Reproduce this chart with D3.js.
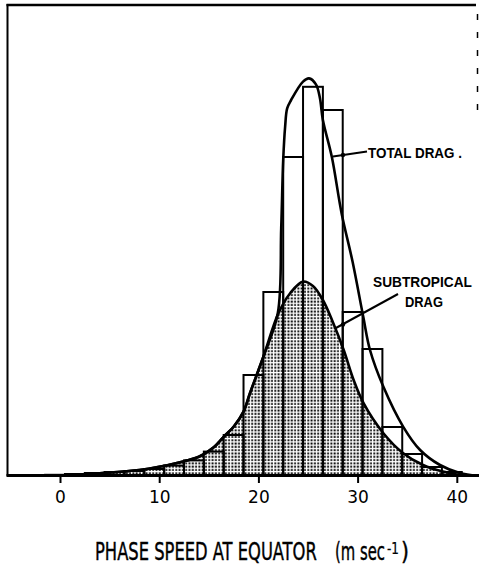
<!DOCTYPE html>
<html>
<head>
<meta charset="utf-8">
<script src="https://cdn.jsdelivr.net/npm/d3@7"></script>
<style>
  html, body { margin: 0; padding: 0; background: #fff; }
  svg { display: block; }
</style>
</head>
<body>
<svg id="chart" width="479" height="566"></svg>
<script>
// ---------- data ----------
// histogram bins (left edge, m/s), each 2 m/s wide
const binLefts = [-5.5, -3.5, -1.5, 0.5, 2.5, 4.5, 6.5, 8.5, 10.5, 12.5, 14.5, 16.5,
                  18.5, 20.5, 22.5, 24.5, 26.5, 28.5, 30.5, 32.5, 34.5, 36.5, 38.5];
const binWidth = 2;
// total drag histogram heights (arbitrary units)
const totalCounts = [0.1, 0.2, 0.3, 0.5, 0.75, 1.0, 1.25, 1.75, 2.6, 3.9, 6.1, 10.25,
                     25.25, 46, 79.75, 97.3, 91.5, 41, 31.75, 12.25, 5.5, 2.25, 1.0];
// subtropical drag curve
const subX = [-5, 0, 4, 8, 10, 12, 14, 15.5, 16.5, 17.5, 18.5, 19.15, 20.5, 22.0,
              23.2, 24.5, 25.5, 26.5, 27.5, 28.6, 29.6, 30.6, 32.6, 34.6, 36.6, 38.6, 40.8, 43];
const subY = [0, 0.1, 0.7, 1.5, 2.3, 3.4, 4.8, 7.2, 9.8, 12.3, 16.1, 20.7, 29.8, 40.6,
              45.7, 48.6, 47.5, 44, 38.5, 31.5, 24, 18.2, 10.7, 5.7, 2.75, 1.1, 0.1, 0];
// total drag curve
const totX = [-5, 0, 4, 8, 10, 12, 14, 15.5, 16.5, 17.5, 18.5, 19.15, 20.5, 21.95,
              22.3, 22.5, 22.7, 22.9, 23.3, 24.5, 25.1, 25.8, 26.2, 26.5, 27.4,
              28.4, 29.5, 30.57, 31.25, 32.6, 34.6, 36.3, 38.3, 40.3, 42.1];
const totY = [0, 0.1, 0.7, 1.5, 2.3, 3.4, 4.8, 7.2, 9.8, 12.3, 16.1, 20.7, 29.8, 40.6,
              62, 79, 87.5, 91.9, 94, 98.6, 99.4, 97.9, 94.5, 89, 79.8,
              65.5, 53.5, 39.8, 31.5, 22.3, 12.3, 6.5, 2.75, 0.75, 0.05];
const tickValues = [0, 10, 20, 30, 40];
const xTitle = "PHASE SPEED AT EQUATOR";
const xUnitMain = "(m sec";
const xUnitSup = "-1";
const xUnitClose = ")";
const labelTotal = "TOTAL DRAG .";
const labelSub1 = "SUBTROPICAL";
const labelSub2 = "DRAG";

// ---------- scales ----------
const svg = d3.select("#chart");
const x = d3.scaleLinear().domain([0, 40]).range([60, 456.8]);
const y = d3.scaleLinear().domain([0, 100]).range([476, 76]);
const baseY = y(0);

// dot pattern
const defs = svg.append("defs");
const pat = defs.append("pattern").attr("id", "dots")
  .attr("patternUnits", "userSpaceOnUse").attr("width", 3.3).attr("height", 3.3);
pat.append("rect").attr("x", 0.4).attr("y", 0.4).attr("width", 1.9).attr("height", 1.9).attr("fill", "#000");
defs.append("clipPath").attr("id", "plotclip").append("rect")
  .attr("x", 8).attr("y", 5).attr("width", 471).attr("height", baseY - 5);

const plot = svg.append("g").attr("clip-path", "url(#plotclip)");

const subPts = subX.map((v, i) => [v, subY[i]]);
const totPts = totX.map((v, i) => [v, totY[i]]);

// shaded area under subtropical curve
plot.append("path")
  .datum(subPts)
  .attr("d", d3.area().x(d => x(d[0])).y0(baseY).y1(d => y(d[1])).curve(d3.curveCatmullRom.alpha(0.5)))
  .attr("fill", "url(#dots)");

// histogram bars
plot.selectAll("rect.bar")
  .data(binLefts.map((l, i) => ({ l, v: totalCounts[i] })))
  .join("rect").attr("class", "bar")
  .attr("x", d => x(d.l))
  .attr("y", d => y(d.v))
  .attr("width", d => x(d.l + binWidth) - x(d.l))
  .attr("height", d => baseY - y(d.v))
  .attr("fill", "none").attr("stroke", "#000").attr("stroke-width", 2);

// curves
const line = d3.line().x(d => x(d[0])).y(d => y(d[1])).curve(d3.curveCatmullRom.alpha(0.5));
plot.append("path").datum(subPts).attr("d", line)
  .attr("fill", "none").attr("stroke", "#000").attr("stroke-width", 2.6);
plot.append("path").datum(totPts).attr("d", line)
  .attr("fill", "none").attr("stroke", "#000").attr("stroke-width", 2.6);

// frame
svg.append("line").attr("x1", 7.5).attr("x2", 7.5).attr("y1", 4).attr("y2", baseY)
  .attr("stroke", "#000").attr("stroke-width", 2);
svg.append("line").attr("x1", 6.5).attr("x2", 476).attr("y1", 5).attr("y2", 5)
  .attr("stroke", "#000").attr("stroke-width", 2.5);
svg.append("line").attr("x1", 477.5).attr("x2", 477.5).attr("y1", 14).attr("y2", 112)
  .attr("stroke", "#000").attr("stroke-width", 1.5).attr("stroke-dasharray", "6,12");

// baseline
svg.append("line").attr("x1", 6.5).attr("x2", 479).attr("y1", baseY - 0.5).attr("y2", baseY - 0.5)
  .attr("stroke", "#000").attr("stroke-width", 3);

// x axis
const axis = svg.append("g").attr("transform", `translate(0,${baseY})`)
  .call(d3.axisBottom(x).tickValues(tickValues).tickSize(7).tickPadding(8).tickFormat(d3.format("d")));
axis.select(".domain").remove();
axis.selectAll(".tick line").attr("stroke", "#000").attr("stroke-width", 2);
axis.selectAll(".tick text").attr("fill", "#000")
  .style("font-family", "'DejaVu Sans', sans-serif").style("font-size", "17px");

// helper: place text so its rendered width equals `w` (horizontal scale)
function fitText(str, x0, y0, w, family, size, weight, strokeW) {
  const t = svg.append("text").attr("x", 0).attr("y", 0).text(str)
    .style("font-family", family).style("font-size", size + "px")
    .style("font-weight", weight || "normal").attr("fill", "#000");
  if (strokeW) t.attr("stroke", "#000").attr("stroke-width", strokeW);
  const nat = t.node().getComputedTextLength() || w;
  t.attr("transform", `translate(${x0},${y0}) scale(${w / nat},1)`);
  return t;
}

// axis title
const tf = "'Liberation Sans Narrow', 'DejaVu Sans Condensed', 'Liberation Sans', sans-serif";
fitText(xTitle, 95, 560, 222, tf, 24, "normal", 0.4);
fitText(xUnitMain, 335, 560, 50, tf, 24, "normal", 0.4);
fitText(xUnitSup, 387, 554, 12, tf, 15, "normal", 0.2);
fitText(xUnitClose, 401, 560, 8, tf, 24, "normal", 0.4);

// annotations
const lf = "'Liberation Sans', Arial, sans-serif";
fitText(labelTotal, 368, 157.5, 94, lf, 14, "bold");
svg.append("line").attr("x1", 333).attr("y1", 156.5).attr("x2", 367).attr("y2", 151.5)
  .attr("stroke", "#000").attr("stroke-width", 2);
svg.append("circle").attr("cx", 343).attr("cy", 155).attr("r", 2.2).attr("fill", "#000");

fitText(labelSub1, 373, 287, 99, lf, 14, "bold");
fitText(labelSub2, 405, 307, 38, lf, 14, "bold");
svg.append("line").attr("x1", 335).attr("y1", 328.5).attr("x2", 398).attr("y2", 294)
  .attr("stroke", "#000").attr("stroke-width", 2);
svg.append("circle").attr("cx", 343).attr("cy", 324.5).attr("r", 2.2).attr("fill", "#000");
</script>
</body>
</html>
